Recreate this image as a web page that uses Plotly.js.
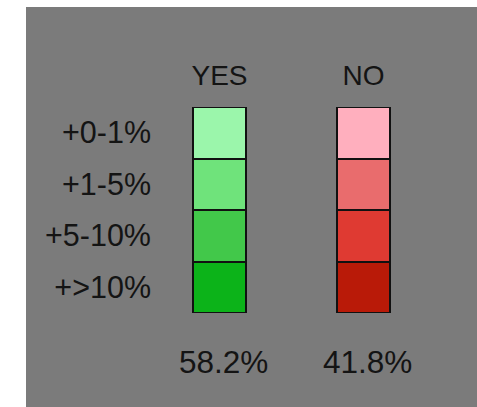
<!DOCTYPE html>
<html>
<head>
<meta charset="utf-8">
<script src="https://cdn.plot.ly/plotly-3.0.1.min.js"></script>
<style>
  html, body { margin: 0; padding: 0; background: #ffffff; width: 477px; height: 407px; overflow: hidden; }
  #chart { position: absolute; left: 26px; top: 7px; width: 451px; height: 400px; }
</style>
</head>
<body>
<div id="chart"></div>
<script>
// Data
const answers = ['YES', 'NO'];
const shares = ['58.2%', '41.8%'];
const bins = ['+>10%', '+5-10%', '+1-5%', '+0-1%'];      // bottom to top
const binHeights = [1, 1, 1, 1];
const yesColors = ['#0cb319', '#42c84a', '#6fe37b', '#9bf6ab'];
const noColors = ['#b91a08', '#df3a32', '#e96c6d', '#ffafbe'];

const traces = bins.map((b, i) => ({
  type: 'bar',
  x: answers,
  y: [binHeights[i], binHeights[i]],
  name: b,
  width: 0.368,
  marker: { color: [yesColors[i], noColors[i]], line: { color: '#111111', width: 2 } },
  hoverinfo: 'skip'
}));

const tickPos = bins.map((b, i) => binHeights.slice(0, i).reduce((a, c) => a + c, 0) + binHeights[i] / 2);

const fontFam = 'Liberation Sans, Arial, Helvetica, sans-serif';
const txtColor = '#141414';

const layout = {
  width: 451, height: 400,
  paper_bgcolor: '#7b7b7b',
  plot_bgcolor: 'rgba(0,0,0,0)',
  barmode: 'stack',
  showlegend: false,
  margin: { l: 131, r: 27, t: 100, b: 94 },
  xaxis: {
    type: 'category',
    side: 'top',
    range: [-0.434, 1.6],
    showgrid: false, zeroline: false, showline: false,
    ticks: 'outside', ticklen: 10, tickcolor: 'rgba(0,0,0,0)',
    tickfont: { family: fontFam, size: 28, color: txtColor }
  },
  yaxis: {
    range: [0, 4],
    showgrid: false, zeroline: false, showline: false,
    tickvals: tickPos, ticktext: bins,
    ticks: '',
    ticklabelstandoff: 5,
    tickfont: { family: fontFam, size: 30.5, color: txtColor }
  },
  annotations: answers.map((a, i) => ({
    x: a, y: 0, xref: 'x', yref: 'y',
    text: shares[i], showarrow: false,
    yanchor: 'middle', yshift: -49, xshift: 4,
    font: { family: fontFam, size: 31.5, color: txtColor }
  }))
};

Plotly.newPlot('chart', traces, layout, { displayModeBar: false, staticPlot: true });
</script>
</body>
</html>
